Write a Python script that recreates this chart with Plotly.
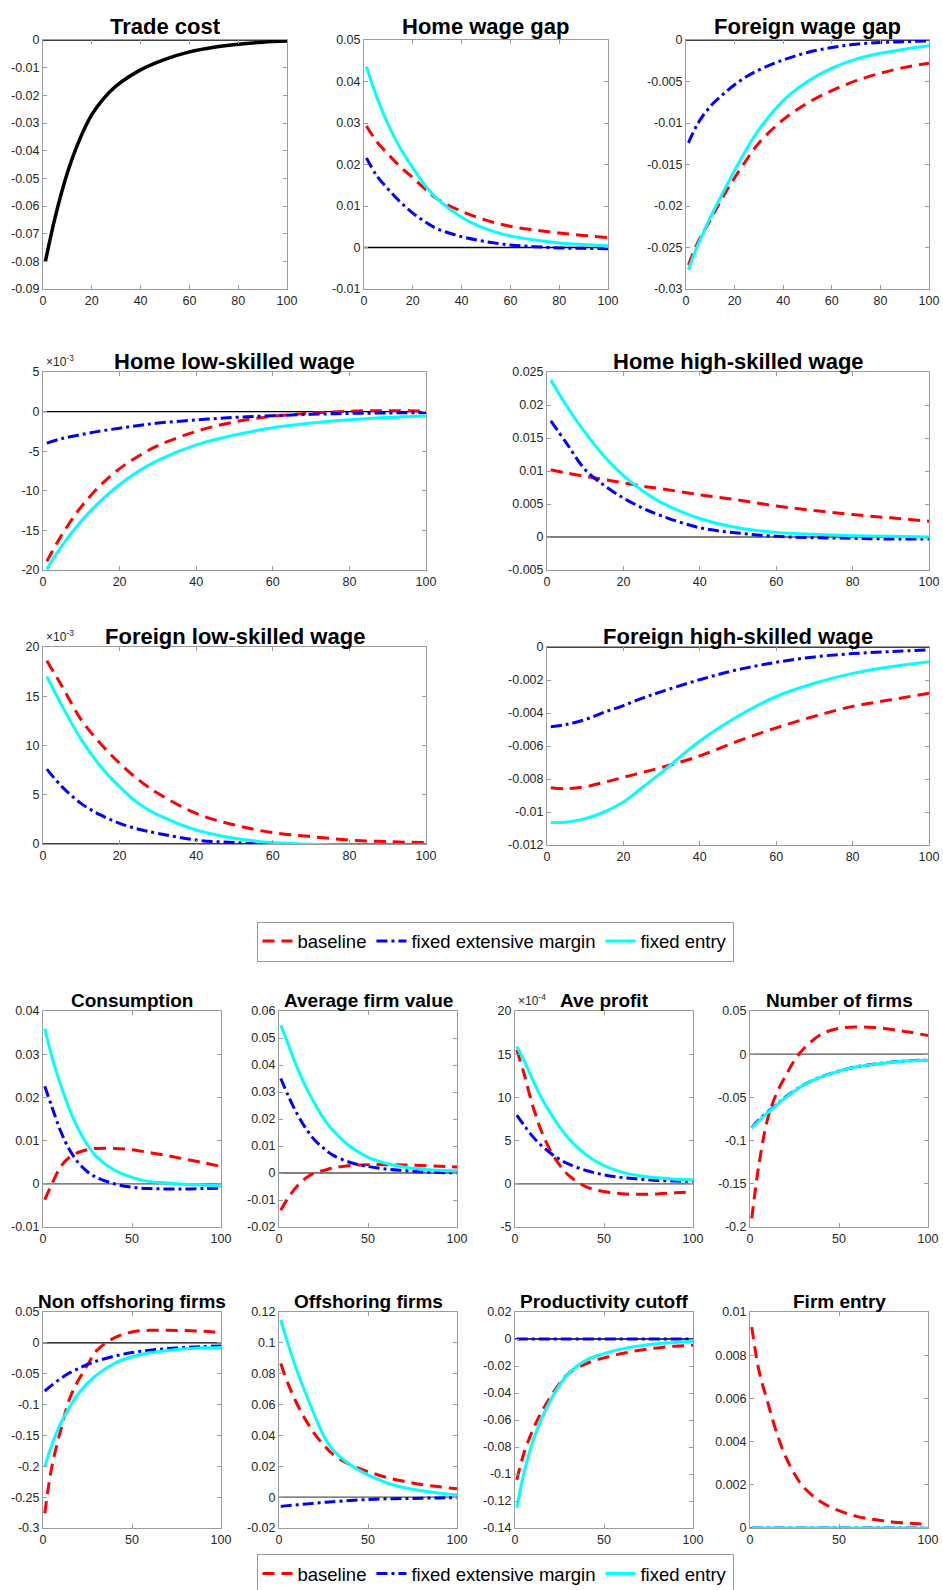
import plotly.graph_objects as go

W, H = 943, 1590
FONT = "Liberation Sans, Arial, Helvetica, sans-serif"

# ---------------- data ----------------
T = [1, 5, 10, 15, 20, 25, 30, 40, 50, 60, 70, 80, 90, 100]
series_names = ["baseline", "fixed extensive margin", "fixed entry"]

trade_cost = [-0.080, -0.064, -0.048, -0.036, -0.027, -0.021, -0.0166, -0.0108, -0.0070, -0.0043, -0.0026, -0.0015, -0.0008, -0.0004]

hw_base = [0.0293, 0.0257, 0.0224, 0.0194, 0.0168, 0.0141, 0.0117, 0.0087, 0.0066, 0.0051, 0.0042, 0.0035, 0.0029, 0.0024]
hw_fem = [0.0216, 0.0175, 0.0140, 0.0109, 0.0083, 0.0062, 0.0045, 0.0026, 0.0014, 0.0006, 0.0002, -0.0001, -0.0002, -0.0003]
hw_fe = [0.0436, 0.0366, 0.0295, 0.0238, 0.0192, 0.0150, 0.0117, 0.0073, 0.0045, 0.0028, 0.0018, 0.0011, 0.0007, 0.0004]

fw_base = [-0.0271, -0.0243, -0.0217, -0.0190, -0.0166, -0.0144, -0.0124, -0.0096, -0.0076, -0.0061, -0.0049, -0.0040, -0.0033, -0.0028]
fw_fem = [-0.0124, -0.0100, -0.0080, -0.0066, -0.0054, -0.0044, -0.0036, -0.0024, -0.0015, -0.0009, -0.0005, -0.0003, -0.0002, -0.0001]
fw_fe = [-0.0277, -0.0246, -0.0214, -0.0185, -0.0157, -0.0131, -0.0108, -0.0073, -0.0050, -0.0034, -0.0023, -0.0016, -0.0011, -0.0007]

hl_base = [-18.9e-3, -15.5e-3, -12.0e-3, -9.3e-3, -7.2e-3, -5.6e-3, -4.3e-3, -2.5e-3, -1.3e-3, -0.6e-3, -0.2e-3, 0.05e-3, 0.12e-3, 0.08e-3]
hl_fem = [-3.98e-3, -3.4e-3, -2.9e-3, -2.45e-3, -2.1e-3, -1.75e-3, -1.45e-3, -1.05e-3, -0.73e-3, -0.52e-3, -0.35e-3, -0.23e-3, -0.17e-3, -0.12e-3]
hl_fe = [-19.9e-3, -16.9e-3, -13.8e-3, -11.3e-3, -9.2e-3, -7.5e-3, -6.15e-3, -4.2e-3, -2.95e-3, -2.05e-3, -1.45e-3, -1.03e-3, -0.75e-3, -0.55e-3]

hh_base = [0.0102, 0.0097, 0.0092, 0.0087, 0.0082, 0.0077, 0.0073, 0.0064, 0.0056, 0.0047, 0.0040, 0.0034, 0.0029, 0.0024]
hh_fem = [0.0176, 0.0143, 0.0102, 0.0078, 0.0059, 0.0044, 0.0032, 0.0014, 0.0006, 0.0001, -0.0001, -0.0002, -0.0003, -0.0003]
hh_fe = [0.0238, 0.0200, 0.0158, 0.0122, 0.0093, 0.0070, 0.0052, 0.0028, 0.0014, 0.0007, 0.0004, 0.0002, 0.0001, 0.0000]

fl_base = [18.6e-3, 16.0e-3, 12.6e-3, 10.2e-3, 8.2e-3, 6.5e-3, 5.15e-3, 3.1e-3, 1.93e-3, 1.15e-3, 0.75e-3, 0.4e-3, 0.24e-3, 0.14e-3]
fl_fem = [7.6e-3, 5.8e-3, 4.1e-3, 2.95e-3, 2.1e-3, 1.5e-3, 1.08e-3, 0.4e-3, 0.14e-3, -0.07e-3, -0.14e-3, -0.14e-3, -0.12e-3, -0.1e-3]
fl_fe = [17.0e-3, 14.0e-3, 10.6e-3, 7.9e-3, 5.8e-3, 4.1e-3, 2.95e-3, 1.42e-3, 0.58e-3, 0.14e-3, -0.03e-3, -0.1e-3, -0.1e-3, -0.1e-3]

fh_base = [-0.00853, -0.00859, -0.00847, -0.0082, -0.0079, -0.0076, -0.0073, -0.0066, -0.0057, -0.0049, -0.0042, -0.0036, -0.0032, -0.0028]
fh_fem = [-0.00484, -0.0047, -0.0044, -0.00395, -0.00355, -0.0031, -0.0027, -0.00198, -0.00137, -0.00093, -0.0006, -0.0004, -0.00028, -0.00018]
fh_fe = [-0.01064, -0.01062, -0.0104, -0.0100, -0.0094, -0.0085, -0.0076, -0.0057, -0.0042, -0.0030, -0.0022, -0.0016, -0.0012, -0.0009]

c_base = [-0.0037, 0.0000, 0.0040, 0.0062, 0.0073, 0.0079, 0.0082, 0.0082, 0.0079, 0.0072, 0.0065, 0.0057, 0.0049, 0.0040]
c_fem = [0.0226, 0.0178, 0.0121, 0.0078, 0.0048, 0.0028, 0.0015, 0.0000, -0.0008, -0.0011, -0.0012, -0.0012, -0.0011, -0.0010]
c_fe = [0.0359, 0.0294, 0.0228, 0.0171, 0.0125, 0.0090, 0.0063, 0.0032, 0.0015, 0.0005, 0.0002, -0.0001, -0.0003, -0.0005]

v_base = [-0.0138, -0.0093, -0.0050, -0.0019, 0.0000, 0.0009, 0.0018, 0.0028, 0.0031, 0.0031, 0.0030, 0.0028, 0.0025, 0.0022]
v_fem = [0.0350, 0.0289, 0.0221, 0.0166, 0.0122, 0.0092, 0.0067, 0.0039, 0.0024, 0.0015, 0.0009, 0.0004, 0.0002, 0.0000]
v_fe = [0.0547, 0.0480, 0.0393, 0.0320, 0.0258, 0.0202, 0.0159, 0.0098, 0.0058, 0.0036, 0.0022, 0.0014, 0.0010, 0.0008]

p_base = [15.5e-4, 12.8e-4, 9.0e-4, 6.0e-4, 3.8e-4, 2.2e-4, 1.0e-4, -0.35e-4, -0.9e-4, -1.15e-4, -1.22e-4, -1.17e-4, -1.05e-4, -0.95e-4]
p_fem = [7.96e-4, 6.8e-4, 5.46e-4, 4.4e-4, 3.54e-4, 2.85e-4, 2.3e-4, 1.54e-4, 1.04e-4, 0.73e-4, 0.54e-4, 0.38e-4, 0.32e-4, 0.28e-4]
p_fe = [15.9e-4, 14.3e-4, 12.0e-4, 9.9e-4, 8.15e-4, 6.6e-4, 5.27e-4, 3.35e-4, 2.1e-4, 1.35e-4, 0.92e-4, 0.7e-4, 0.54e-4, 0.46e-4]

n_base = [-0.190, -0.128, -0.074, -0.045, -0.025, -0.007, 0.006, 0.023, 0.030, 0.0315, 0.031, 0.0285, 0.0254, 0.0215]
n_fem = [-0.0850, -0.0760, -0.0668, -0.0582, -0.0496, -0.0424, -0.0356, -0.0261, -0.0195, -0.0145, -0.0114, -0.0091, -0.0076, -0.0068]
n_fe = [-0.0858, -0.0770, -0.0677, -0.0588, -0.0500, -0.0427, -0.0358, -0.0262, -0.0196, -0.0146, -0.0115, -0.0092, -0.0077, -0.0069]

no_base = [-0.276, -0.200, -0.141, -0.090, -0.060, -0.036, -0.013, 0.008, 0.0177, 0.0204, 0.0204, 0.0199, 0.0188, 0.0166]
no_fem = [-0.078, -0.0685, -0.0577, -0.0485, -0.0415, -0.035, -0.0297, -0.0216, -0.0157, -0.0119, -0.0092, -0.0076, -0.006, -0.0049]
no_fe = [-0.2004, -0.165, -0.130, -0.1035, -0.082, -0.0657, -0.0522, -0.0334, -0.0226, -0.0162, -0.0124, -0.0097, -0.0081, -0.0076]

of_base = [0.0866, 0.0737, 0.0607, 0.050, 0.041, 0.034, 0.028, 0.021, 0.0166, 0.0129, 0.0103, 0.0082, 0.0067, 0.0054]
of_fem = [-0.0060, -0.0055, -0.0050, -0.0045, -0.0039, -0.0034, -0.0030, -0.0022, -0.0015, -0.0011, -0.0009, -0.0007, -0.0005, -0.0004]
of_fe = [0.1150, 0.0995, 0.0823, 0.0672, 0.0530, 0.0400, 0.0310, 0.0210, 0.0144, 0.0095, 0.0062, 0.0041, 0.0026, 0.0015]

pc_base = [-0.1043, -0.0846, -0.0674, -0.0538, -0.0428, -0.0330, -0.0255, -0.0182, -0.0140, -0.0108, -0.0083, -0.0066, -0.0054, -0.0046]
pc_fem = [0.0] * 14
pc_fe = [-0.125, -0.0994, -0.076, -0.0588, -0.0452, -0.0342, -0.0255, -0.0157, -0.0108, -0.0073, -0.0051, -0.0036, -0.0026, -0.0017]

fe_base = [0.0093, 0.0073, 0.0058, 0.0044, 0.0033, 0.0025, 0.0019, 0.0012, 0.0008, 0.00054, 0.00039, 0.00028, 0.00022, 0.00017]
fe_fem = [0.0] * 14
fe_fe = [0.0] * 14

# tick values / labels
xt_a = [0, 20, 40, 60, 80, 100]
xt_b = [0, 50, 100]
yt_trade = [-0.09, -0.08, -0.07, -0.06, -0.05, -0.04, -0.03, -0.02, -0.01, 0]
yl_trade = ["-0.09", "-0.08", "-0.07", "-0.06", "-0.05", "-0.04", "-0.03", "-0.02", "-0.01", "0"]
yt_hw = [-0.01, 0, 0.01, 0.02, 0.03, 0.04, 0.05]
yl_hw = ["-0.01", "0", "0.01", "0.02", "0.03", "0.04", "0.05"]
yt_fw = [-0.03, -0.025, -0.02, -0.015, -0.01, -0.005, 0]
yl_fw = ["-0.03", "-0.025", "-0.02", "-0.015", "-0.01", "-0.005", "0"]
yt_hl = [-0.02, -0.015, -0.01, -0.005, 0, 0.005]
yl_hl = ["-20", "-15", "-10", "-5", "0", "5"]
yt_hh = [-0.005, 0, 0.005, 0.01, 0.015, 0.02, 0.025]
yl_hh = ["-0.005", "0", "0.005", "0.01", "0.015", "0.02", "0.025"]
yt_fl = [0, 0.005, 0.01, 0.015, 0.02]
yl_fl = ["0", "5", "10", "15", "20"]
yt_fh = [-0.012, -0.01, -0.008, -0.006, -0.004, -0.002, 0]
yl_fh = ["-0.012", "-0.01", "-0.008", "-0.006", "-0.004", "-0.002", "0"]
yt_c = [-0.01, 0, 0.01, 0.02, 0.03, 0.04]
yl_c = ["-0.01", "0", "0.01", "0.02", "0.03", "0.04"]
yt_v = [-0.02, -0.01, 0, 0.01, 0.02, 0.03, 0.04, 0.05, 0.06]
yl_v = ["-0.02", "-0.01", "0", "0.01", "0.02", "0.03", "0.04", "0.05", "0.06"]
yt_p = [-5e-4, 0, 5e-4, 10e-4, 15e-4, 20e-4]
yl_p = ["-5", "0", "5", "10", "15", "20"]
yt_n = [-0.2, -0.15, -0.1, -0.05, 0, 0.05]
yl_n = ["-0.2", "-0.15", "-0.1", "-0.05", "0", "0.05"]
yt_no = [-0.3, -0.25, -0.2, -0.15, -0.1, -0.05, 0, 0.05]
yl_no = ["-0.3", "-0.25", "-0.2", "-0.15", "-0.1", "-0.05", "0", "0.05"]
yt_of = [-0.02, 0, 0.02, 0.04, 0.06, 0.08, 0.1, 0.12]
yl_of = ["-0.02", "0", "0.02", "0.04", "0.06", "0.08", "0.1", "0.12"]
yt_pc = [-0.14, -0.12, -0.1, -0.08, -0.06, -0.04, -0.02, 0, 0.02]
yl_pc = ["-0.14", "-0.12", "-0.1", "-0.08", "-0.06", "-0.04", "-0.02", "0", "0.02"]
yt_fe = [0, 0.002, 0.004, 0.006, 0.008, 0.01]
yl_fe = ["0", "0.002", "0.004", "0.006", "0.008", "0.01"]

# ---------------- layout spec (pixel boxes: left, right, top, bottom) ----------------
panels = [
    dict(title="Trade cost", box=(43, 287, 40, 289), yr=(-0.09, 0), yt=yt_trade, yl=yl_trade, xt=xt_a, data=[trade_cost], zc="black", tsize=22, ty=26.5),
    dict(title="Home wage gap", box=(364, 608, 40, 289), yr=(-0.01, 0.05), yt=yt_hw, yl=yl_hw, xt=xt_a, data=[hw_base, hw_fem, hw_fe], zc="black", tsize=22, ty=26.5, leg="legend"),
    dict(title="Foreign wage gap", box=(686, 929, 40, 289), yr=(-0.03, 0), yt=yt_fw, yl=yl_fw, xt=xt_a, data=[fw_base, fw_fem, fw_fe], zc="black", tsize=22, ty=26.5),
    dict(title="Home low-skilled wage", box=(43, 426, 372, 570), yr=(-0.02, 0.005), yt=yt_hl, yl=yl_hl, xt=xt_a, data=[hl_base, hl_fem, hl_fe], zc="black", tsize=22, ty=361, exp="-3"),
    dict(title="Home high-skilled wage", box=(547, 929, 372, 570), yr=(-0.005, 0.025), yt=yt_hh, yl=yl_hh, xt=xt_a, data=[hh_base, hh_fem, hh_fe], zc="#555555", tsize=22, ty=361),
    dict(title="Foreign low-skilled wage", box=(43, 426, 647, 844), yr=(0, 0.02), yt=yt_fl, yl=yl_fl, xt=xt_a, data=[fl_base, fl_fem, fl_fe], zc="black", tsize=22, ty=636.5, exp="-3"),
    dict(title="Foreign high-skilled wage", box=(547, 929, 647, 845), yr=(-0.012, 0), yt=yt_fh, yl=yl_fh, xt=xt_a, data=[fh_base, fh_fem, fh_fe], zc="black", tsize=22, ty=636.5),
    dict(title="Consumption", box=(43, 221, 1011, 1227), yr=(-0.01, 0.04), yt=yt_c, yl=yl_c, xt=xt_b, data=[c_base, c_fem, c_fe], zc="#555555", tsize=19, ty=1000, leg="legend2"),
    dict(title="Average firm value", box=(279, 457, 1011, 1227), yr=(-0.02, 0.06), yt=yt_v, yl=yl_v, xt=xt_b, data=[v_base, v_fem, v_fe], zc="#555555", tsize=19, ty=1000),
    dict(title="Ave profit", box=(515, 693, 1011, 1227), yr=(-5e-4, 20e-4), yt=yt_p, yl=yl_p, xt=xt_b, data=[p_base, p_fem, p_fe], zc="#555555", tsize=19, ty=1000, exp="-4"),
    dict(title="Number of firms", box=(750, 928, 1011, 1227), yr=(-0.2, 0.05), yt=yt_n, yl=yl_n, xt=xt_b, data=[n_base, n_fem, n_fe], zc="#555555", tsize=19, ty=1000),
    dict(title="Non offshoring firms", box=(43, 221, 1312, 1528), yr=(-0.3, 0.05), yt=yt_no, yl=yl_no, xt=xt_b, data=[no_base, no_fem, no_fe], zc="black", tsize=19, ty=1301),
    dict(title="Offshoring firms", box=(279, 457, 1312, 1528), yr=(-0.02, 0.12), yt=yt_of, yl=yl_of, xt=xt_b, data=[of_base, of_fem, of_fe], zc="#555555", tsize=19, ty=1301),
    dict(title="Productivity cutoff", box=(515, 693, 1312, 1528), yr=(-0.14, 0.02), yt=yt_pc, yl=yl_pc, xt=xt_b, data=[pc_base, pc_fem, pc_fe], zc="black", tsize=19, ty=1301),
    dict(title="Firm entry", box=(750, 928, 1312, 1528), yr=(0, 0.01), yt=yt_fe, yl=yl_fe, xt=xt_b, data=[fe_base, fe_fem, fe_fe], zc="#555555", tsize=19, ty=1301),
]

styles = [
    dict(color="#FF0000", width=3, dash="12px,7px"),
    dict(color="#0000FF", width=3, dash="11px,4px,3px,4px"),
    dict(color="#00FFFF", width=3, dash="solid"),
]
AX = "#9c9c9c"
TICKF = dict(family=FONT, size=12.5, color="#262626")

fig = go.Figure()
layout = dict(width=W, height=H, margin=dict(l=0, r=0, t=0, b=0, autoexpand=False),
              paper_bgcolor="white", plot_bgcolor="white", showlegend=True,
              annotations=[], shapes=[])

for i, p in enumerate(panels):
    k = i + 1
    xa = "x" if k == 1 else f"x{k}"
    ya = "y" if k == 1 else f"y{k}"
    l, r, t, b = p["box"]
    axcommon = dict(showgrid=False, zeroline=False, showline=True, linecolor=AX, linewidth=1,
                    mirror="ticks", ticks="inside", ticklen=4, tickcolor=AX, tickwidth=1,
                    tickfont=TICKF, automargin=False)
    layout["xaxis" if k == 1 else f"xaxis{k}"] = dict(
        domain=[l / W, r / W], anchor=ya, range=[0, 100], tickvals=p["xt"],
        ticktext=[str(v) for v in p["xt"]], **axcommon)
    layout["yaxis" if k == 1 else f"yaxis{k}"] = dict(
        domain=[1 - b / H, 1 - t / H], anchor=xa, range=list(p["yr"]), tickvals=p["yt"],
        ticktext=p["yl"], **axcommon)
    # zero reference line
    layout["shapes"].append(dict(type="line", xref=f"{xa} domain", x0=0, x1=1, yref=ya, y0=0, y1=0,
                                 line=dict(color=p["zc"], width=1.3), layer="below"))
    if len(p["data"]) == 1:
        fig.add_trace(go.Scatter(x=T, y=p["data"][0], mode="lines", line=dict(color="black", width=3.5),
                                 line_shape="spline", xaxis=xa, yaxis=ya, showlegend=False))
    else:
        for j, yv in enumerate(p["data"]):
            leg = p.get("leg")
            fig.add_trace(go.Scatter(x=T, y=yv, mode="lines", name=series_names[j],
                                     line=dict(**styles[j]), line_shape="spline",
                                     xaxis=xa, yaxis=ya,
                                     showlegend=leg is not None, legend=leg if leg else "legend"))
    layout["annotations"].append(dict(
        text=f"<b>{p['title']}</b>", x=p.get("tx", (l + r) / 2) / W, y=1 - p["ty"] / H, xref="paper", yref="paper",
        xanchor="center", yanchor="middle", showarrow=False,
        font=dict(family=FONT, size=p["tsize"], color="black")))
    if "exp" in p:
        layout["annotations"].append(dict(
            text=f"\u00d710<sup>{p['exp']}</sup>", x=(l + 1) / W, y=1 - (t - 1) / H, xref="paper", yref="paper",
            xanchor="left", yanchor="bottom", showarrow=False,
            font=dict(family=FONT, size=12, color="#262626")))

legcommon = dict(orientation="h", xanchor="center", bgcolor="white",
                 bordercolor=AX, borderwidth=1, font=dict(family=FONT, size=18.5, color="black"),
                 itemwidth=30, tracegroupgap=0)
layout["legend"] = dict(x=495 / W, y=1 - 941.5 / H, yanchor="middle", **legcommon)
layout["legend2"] = dict(x=495 / W, y=1 - 1554 / H, yanchor="top", **legcommon)

fig.update_layout(**layout)
fig.write_html("out.html")
